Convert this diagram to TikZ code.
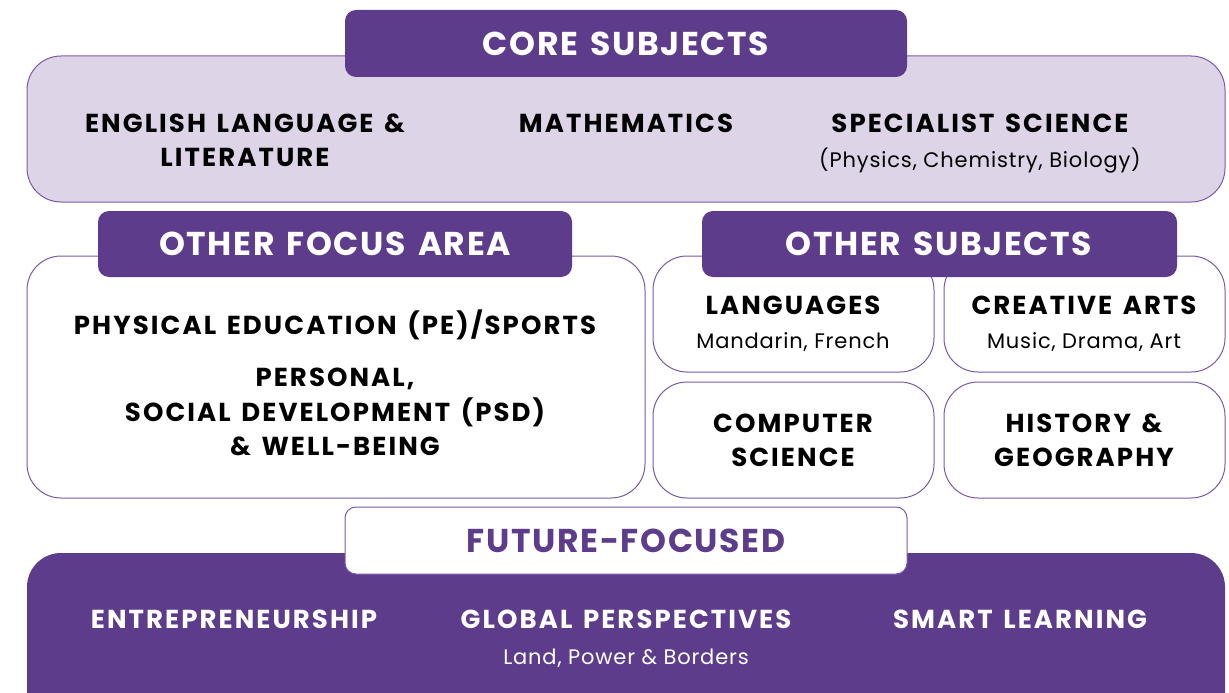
\documentclass[tikz,border=0pt]{standalone}
\usepackage{fontspec}
\setmainfont{Poppins}
\newfontfamily\widefont{Poppins}[WordSpace=1.4]
\definecolor{plum}{HTML}{5E3C8C}
\definecolor{lilac}{HTML}{DED4E8}
\definecolor{rim}{HTML}{7A5AA8}

\tikzset{
  panel/.style={draw=rim, line width=1pt, rounded corners=34pt},
  tab/.style={rounded corners=11pt},
  head/.style={anchor=base, text=white,
    font=\widefont\fontsize{33}{34}\selectfont\bfseries\addfontfeature{LetterSpace=5}},
  item/.style={anchor=base, align=center,
    font=\widefont\fontsize{26}{34.5}\selectfont\bfseries\addfontfeature{LetterSpace=8}},
  note/.style={anchor=base,
    font=\fontsize{21}{22}\selectfont\addfontfeature{LetterSpace=4}},
}

\begin{document}
\begin{tikzpicture}[x=1pt, y=-1pt]
    \useasboundingbox (0, 0) rectangle (1229, 693);
    \clip (0, 0) rectangle (1229, 693);
    % core subjects
    \draw[panel, fill=lilac] (27, 56) rectangle (1225, 202);
    \fill[plum, tab] (345, 10) rectangle (907, 77);
    \node[head] (core) at (626, 55.5) {CORE SUBJECTS};
    \node[item] (english) at (245, 166.5) {ENGLISH LANGUAGE \&\\LITERATURE};
    \node[item] (maths) at (626, 132) {MATHEMATICS};
    \node[item] (science) at (980, 132) {SPECIALIST SCIENCE};
    \node[note] (sciences) at (980, 167) {(Physics, Chemistry, Biology)};
    % other focus area
    \draw[panel, fill=white] (27, 256) rectangle (645, 498);
    \fill[plum, tab] (98, 211) rectangle (572, 277);
    \node[head] (focus) at (335, 255.5) {OTHER FOCUS AREA};
    \node[item] (pe) at (335, 334.5) {PHYSICAL EDUCATION (PE)/SPORTS};
    \node[item] (psd) at (335, 455.5) {PERSONAL,\\SOCIAL DEVELOPMENT (PSD)\\\& WELL-BEING};
    % other subjects
    \draw[panel, fill=white] (653, 256) rectangle (934, 372);
    \draw[panel, fill=white] (944, 256) rectangle (1225, 372);
    \draw[panel, fill=white] (653, 382) rectangle (934, 498);
    \draw[panel, fill=white] (944, 382) rectangle (1225, 498);
    \fill[plum, tab] (702, 211) rectangle (1177, 277);
    \node[head] (others) at (939, 255.5) {OTHER SUBJECTS};
    \node[item] (lang) at (793, 314.5) {LANGUAGES};
    \node[note] (langs) at (793, 348) {Mandarin, French};
    \node[item] (arts) at (1084, 314.5) {CREATIVE ARTS};
    \node[note] (artlist) at (1084, 348) {Music, Drama, Art};
    \node[item] (comp) at (793, 466.5) {COMPUTER\\SCIENCE};
    \node[item] (hist) at (1084, 466.5) {HISTORY \&\\GEOGRAPHY};
    % future-focused
    \fill[plum, rounded corners=34pt] (27, 553) rectangle (1225, 730);
    \draw[draw=rim, line width=1pt, fill=white, tab] (345, 507) rectangle (907, 574);
    \node[head, text=plum] (future) at (626, 552.5) {FUTURE-FOCUSED};
    \node[item, text=white] (entre) at (234, 628.5) {ENTREPRENEURSHIP};
    \node[item, text=white] (global) at (626, 628.5) {GLOBAL PERSPECTIVES};
    \node[note, text=white] (borders) at (626, 664) {Land, Power \& Borders};
    \node[item, text=white] (smart) at (1020, 628.5) {SMART LEARNING};
\end{tikzpicture}
\end{document}
